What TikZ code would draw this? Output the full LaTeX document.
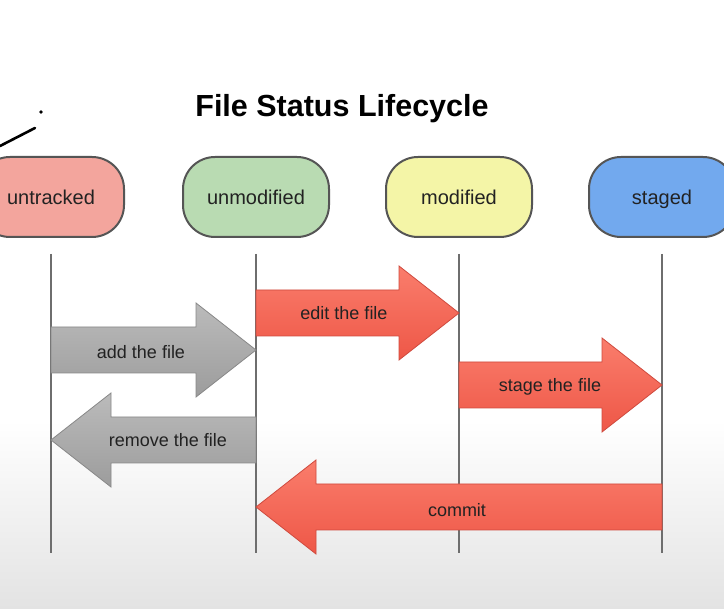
\documentclass[tikz,border=0pt]{standalone}
\usepackage{fontspec}
\setmainfont{Liberation Sans}
\usetikzlibrary{calc, positioning}

\definecolor{pillline}{HTML}{555555}
\definecolor{untrackedfill}{HTML}{F3A59D}
\definecolor{unmodifiedfill}{HTML}{B9DBB2}
\definecolor{modifiedfill}{HTML}{F4F5A7}
\definecolor{stagedfill}{HTML}{72A9EE}
\definecolor{redtop}{HTML}{FA7D6C}
\definecolor{redbottom}{HTML}{EE5747}
\definecolor{redline}{HTML}{CF4A3E}
\definecolor{graytop}{HTML}{BBBBBB}
\definecolor{graybottom}{HTML}{9C9C9C}
\definecolor{grayline}{HTML}{888888}
\definecolor{lifeline}{HTML}{6E6E6E}
\definecolor{labeltext}{HTML}{222222}

\newcommand{\lifearrow}[3]{%
  \coordinate (hb) at ($(#3)!60pt!(#2)$);
  \draw[#1] ($(#2)+(0,23pt)$) -- ($(hb)+(0,23pt)$) -- ($(hb)+(0,47pt)$) -- (#3)
    -- ($(hb)+(0,-47pt)$) -- ($(hb)+(0,-23pt)$) -- ($(#2)+(0,-23pt)$) -- cycle;}

\begin{document}
\begin{tikzpicture}[x=1pt, y=-1pt,
    state/.style={rectangle, rounded corners=32pt, draw=pillline, line width=2pt,
      minimum width=146pt, minimum height=80pt, text=labeltext,
      text height=14.4pt, text depth=0pt,
      font=\fontsize{20}{22}\selectfont},
    redarrow/.style={top color=redtop, bottom color=redbottom, draw=redline, line width=0.8pt},
    grayarrow/.style={top color=graytop, bottom color=graybottom, draw=grayline, line width=0.8pt},
    arrowlabel/.style={text=labeltext, font=\fontsize{18}{20}\selectfont},
    life/.style={draw=lifeline, line width=2pt}]
  \useasboundingbox (0,0) rectangle (724,609);
  \clip (0,0) rectangle (724,609);
  \fill[white] (0,0) rectangle (724,420);
  \shade[top color=white, bottom color=black!11] (0,420) rectangle (724,609);

  % pen scribble
  \draw[line width=2.6pt, line cap=round] (0,146) -- (35,128);
  \fill (41,112) circle (1.8pt);

  \node[font=\fontsize{30.5}{36}\selectfont\bfseries] (title) at (342,109) {File Status Lifecycle};

  \node[state, fill=untrackedfill] (untracked) at (51,197) {untracked};
  \node[state, fill=unmodifiedfill] (unmodified) at (256,197) {unmodified};
  \node[state, fill=modifiedfill] (modified) at (459,197) {modified};
  \node[state, fill=stagedfill] (staged) at (662,197) {staged};

  \foreach \s in {untracked, unmodified, modified, staged}
    \draw[life] ([yshift=-16pt]\s.south) coordinate (\s-top) -- ++(0,299) coordinate (\s-bot);

  \coordinate (yedit) at (0,313);
  \coordinate (yadd) at (0,350);
  \coordinate (yremove) at (0,440);
  \coordinate (ystage) at (0,385);
  \coordinate (ycommit) at (0,507);

  \lifearrow{redarrow}{unmodified-top |- yedit}{modified-top |- yedit}
  \lifearrow{grayarrow}{untracked-top |- yadd}{unmodified-top |- yadd}
  \lifearrow{grayarrow}{unmodified-top |- yremove}{untracked-top |- yremove}
  \lifearrow{redarrow}{modified-top |- ystage}{staged-top |- ystage}
  \lifearrow{redarrow}{staged-top |- ycommit}{unmodified-top |- ycommit}

  \node[arrowlabel] (edit) at (344,313) {edit the file};
  \node[arrowlabel] (add) at (141,352) {add the file};
  \node[arrowlabel] (remove) at (168,440) {remove the file};
  \node[arrowlabel] (stage) at (550,387) {stage the file};
  \node[arrowlabel] (commit) at (457,510) {commit};
\end{tikzpicture}
\end{document}
